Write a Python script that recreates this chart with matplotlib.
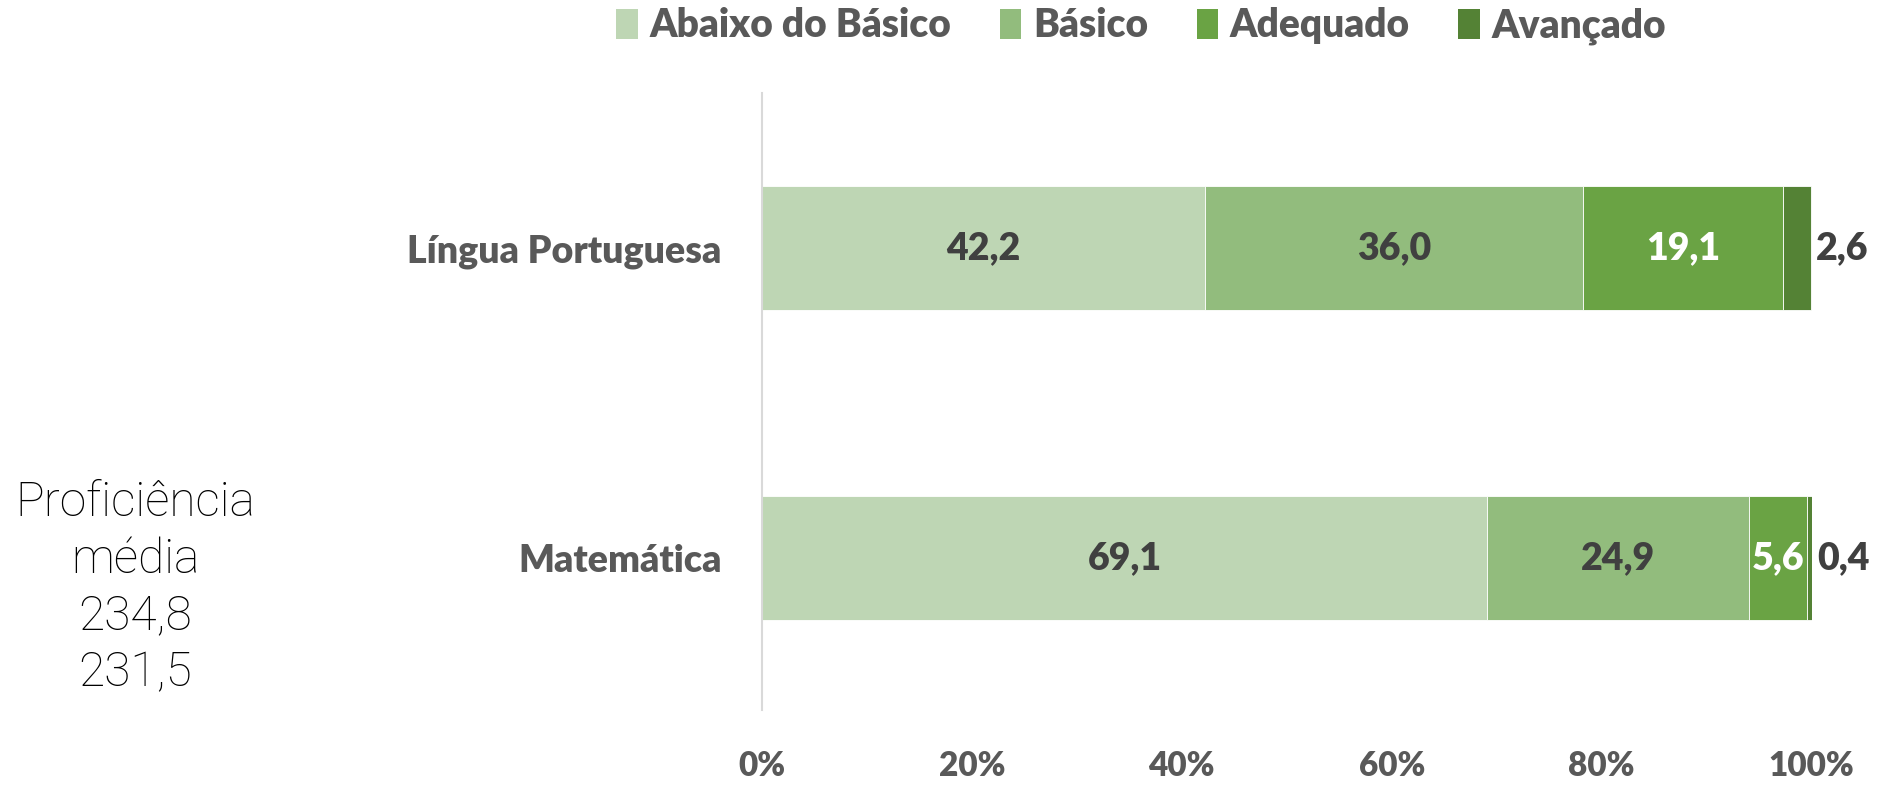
import matplotlib
matplotlib.use("Agg")
import matplotlib.pyplot as plt
import numpy as np

categories = ["Matemática", "Língua Portuguesa"]
levels = ["Abaixo do Básico", "Básico", "Adequado", "Avançado"]
abaixo = [69.1, 42.2]
basico = [24.9, 36.0]
adequado = [5.6, 19.1]
avancado = [0.4, 2.6]
xticks = [0, 20, 40, 60, 80, 100]
xticklabels = ["0%", "20%", "40%", "60%", "80%", "100%"]
side_text = ["Proficiência", "média", "234,8", "231,5"]

colors = ["#BED6B4", "#92BC7D", "#6AA344", "#548235"]
label_colors = ["#404040", "#404040", "white", "#404040"]
gray = "#595959"

plt.rcParams['font.family'] = ['Lato', 'DejaVu Sans']
W = "heavy"

fig = plt.figure(figsize=(18.8, 7.85), dpi=100)
ax = fig.add_axes([0.4053, 0.0955, 0.9636 - 0.4053, 0.881 - 0.0955])

series = [abaixo, basico, adequado, avancado]
y = np.arange(len(categories))
left = np.zeros(len(categories))
for i, (vals, col) in enumerate(zip(series, colors)):
    vals = np.array(vals)
    ax.barh(y, vals, left=left, height=0.4, color=col, edgecolor="white",
            linewidth=0.6, label=levels[i])
    for j, v in enumerate(vals):
        txt = f"{v:.1f}".replace(".", ",")
        if i == 3:
            ax.text(left[j] + v + 0.5, y[j], txt, ha="left", va="center",
                    fontsize=27, fontweight=W, color="#404040")
        else:
            ax.text(left[j] + v / 2, y[j], txt, ha="center", va="center",
                    fontsize=27, fontweight=W, color=label_colors[i])
    left += vals

ax.set_xlim(0, 100)
ax.set_ylim(-0.49, 1.5)
ax.set_yticks(y)
ax.set_yticklabels(categories, fontsize=27, fontweight=W, color=gray)
ax.set_xticks(xticks)
ax.set_xticklabels(xticklabels, fontsize=24, fontweight=W, color=gray)
ax.tick_params(axis="x", length=0, pad=29)
ax.tick_params(axis="y", length=0, pad=29)
for s in ["top", "right", "bottom"]:
    ax.spines[s].set_visible(False)
ax.spines["left"].set_color("#D9D9D9")
ax.spines["left"].set_linewidth(1.5)

handles, labels = ax.get_legend_handles_labels()
leg = fig.legend(handles, labels, loc="center", bbox_to_anchor=(0.607, 0.967), ncol=4,
                 frameon=False, prop={"size": 28, "weight": W},
                 handlelength=0.55, handleheight=0.8,
                 handletextpad=0.3, columnspacing=1.25)
for t in leg.get_texts():
    t.set_color(gray)
for h in leg.legend_handles:
    h.set_edgecolor("none")

fig.text(0.072, 0.251, "\n".join(side_text), ha="center", va="center",
         fontsize=34.5, family=["Roboto", "DejaVu Sans"], fontweight="light",
         color="black", linespacing=1.3)

fig.savefig("out.png", dpi=100)
